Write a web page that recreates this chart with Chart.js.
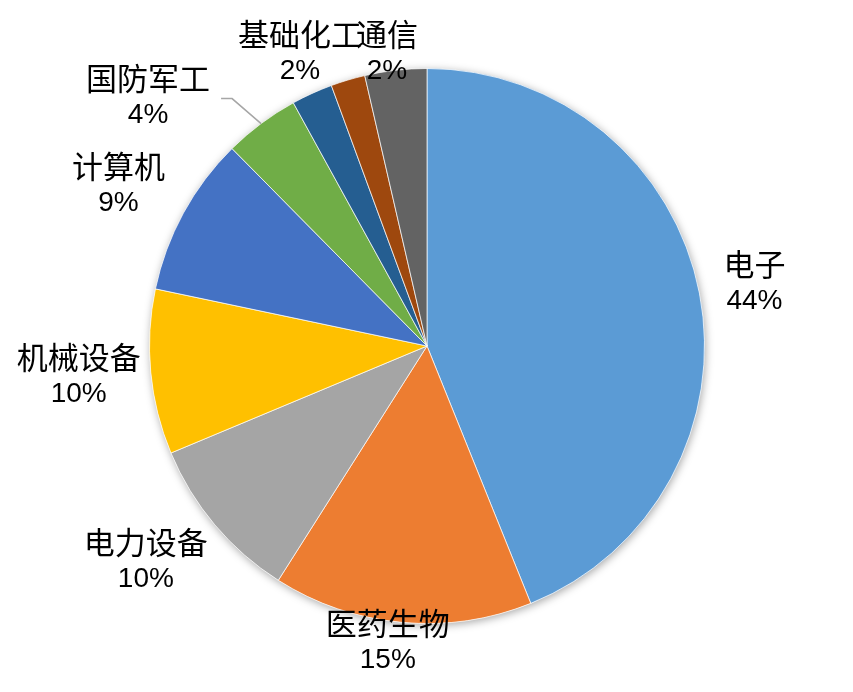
<!DOCTYPE html>
<html>
<head>
<meta charset="utf-8">
<script src="https://cdn.jsdelivr.net/npm/chart.js@4.4.0/dist/chart.umd.min.js"></script>
<style>
  html, body { margin: 0; padding: 0; background: #fff; }
  #wrap { width: 853px; height: 692px; }
</style>
</head>
<body>
<div id="wrap"><canvas id="PieChart" width="853" height="692"></canvas></div>
<script>
// data (share of total, %)
const categories = ['电子', '医药生物', '电力设备', '机械设备', '计算机', '国防军工', '基础化工', '通信', '其他'];
const shares = [43.9, 15.1, 9.7, 9.6, 9.3, 4.4, 2.4, 2.0, 3.6];
const hiddenLabels = ['其他'];

const colors = ['#5B9BD5', '#ED7D31', '#A5A5A5', '#FFC000', '#4472C4', '#70AD47', '#255E91', '#9E480E', '#636363'];

// label nudges from the slice's outer mid point, [dx, dy]
const labelNudge = [[55, -11], [-14, 19], [-69, 35], [-72, 3], [-65, -29], [-113, -27], [-12, -41], [39, -28], [0, 0]];
const leaderFor = ['国防军工'];

const pieShadow = {
    id: 'pieShadow',
    beforeDatasetsDraw(chart) {
        const arc = chart.getDatasetMeta(0).data[0];
        if (!arc) return;
        const ctx = chart.ctx;
        ctx.save();
        ctx.shadowColor = 'rgba(0,0,0,0.35)';
        ctx.shadowBlur = 8;
        ctx.shadowOffsetX = 1;
        ctx.shadowOffsetY = 2;
        ctx.fillStyle = '#fff';
        ctx.beginPath();
        ctx.arc(arc.x, arc.y, arc.outerRadius, 0, Math.PI * 2);
        ctx.fill();
        ctx.restore();
    }
};

const outsideLabels = {
    id: 'outsideLabels',
    afterDatasetsDraw(chart) {
        const ctx = chart.ctx;
        const data = chart.data.datasets[0].data;
        const total = data.reduce((a, b) => a + b, 0);
        chart.getDatasetMeta(0).data.forEach(function (arc, i) {
            const name = chart.data.labels[i];
            if (hiddenLabels.includes(name)) return;
            const mid = (arc.startAngle + arc.endAngle) / 2;
            const ex = arc.x + Math.cos(mid) * arc.outerRadius;
            const ey = arc.y + Math.sin(mid) * arc.outerRadius;
            const lx = ex + labelNudge[i][0];
            const ly = ey + labelNudge[i][1];
            const pct = Math.round(data[i] / total * 100) + '%';

            ctx.save();
            ctx.fillStyle = '#000';
            ctx.textAlign = 'center';
            ctx.textBaseline = 'middle';
            ctx.font = '31px "Noto Sans CJK SC", sans-serif';
            const w = ctx.measureText(name).width;
            ctx.fillText(name, lx, ly - 18);
            ctx.font = '28px "Liberation Sans", Arial, sans-serif';
            ctx.fillText(pct, lx, ly + 19);

            if (leaderFor.includes(name)) {
                const x0 = lx + w / 2 + 11;
                ctx.strokeStyle = '#A6A6A6';
                ctx.lineWidth = 1.5;
                ctx.beginPath();
                ctx.moveTo(x0, ly + 2);
                ctx.lineTo(x0 + 11, ly + 2);
                ctx.lineTo(ex, ey);
                ctx.stroke();
            }
            ctx.restore();
        });
    }
};

const ctx = document.getElementById('PieChart').getContext('2d');
new Chart(ctx, {
    type: 'pie',
    data: {
        labels: categories,
        datasets: [{
            data: shares,
            backgroundColor: colors,
            borderColor: 'rgba(255,255,255,0.7)',
            borderWidth: 1
        }]
    },
    options: {
        responsive: false,
        animation: false,
        layout: { padding: { top: 68, bottom: 68, left: 149, right: 148 } },
        plugins: {
            legend: { display: false },
            tooltip: { enabled: false }
        }
    },
    plugins: [pieShadow, outsideLabels]
});
</script>
</body>
</html>
